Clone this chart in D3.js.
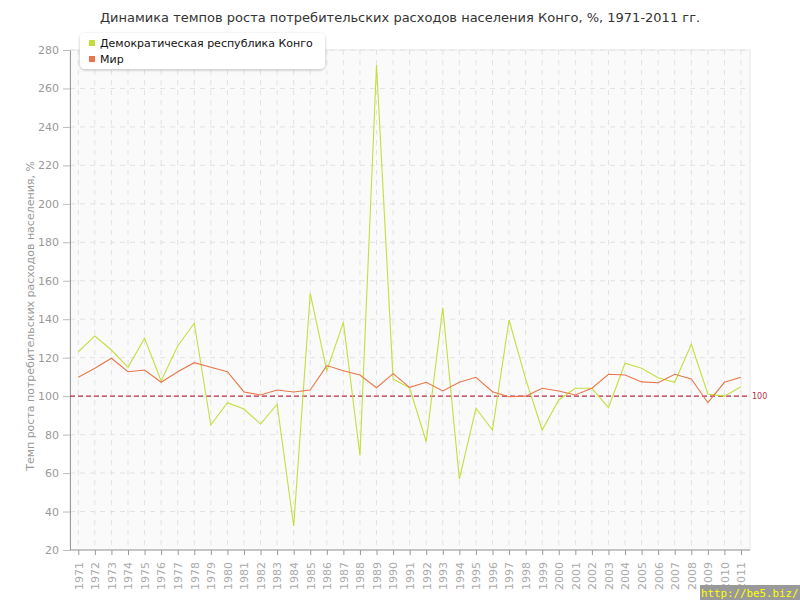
<!DOCTYPE html>
<html>
<head>
<meta charset="utf-8">
<script src="https://d3js.org/d3.v7.min.js"></script>
<style>
  body { margin: 0; background: #fff; }
  svg { display: block; font-family: "DejaVu Sans", Verdana, sans-serif; }
</style>
</head>
<body>
<svg id="chart" width="800" height="600"></svg>
<script>
const years = d3.range(1971, 2012);
const congo = [123.1, 131.3, 124, 115, 130.1, 107.9, 126.1, 137.9, 85, 96.6,
  93.3, 85.5, 95.8, 32.5, 153.5, 113.2, 138.4, 69.2, 272.2, 108.9,
  104.3, 76.3, 146, 56.9, 93.7, 82.4, 139.6, 109, 82.4, 98,
  104.1, 104.1, 94, 117.1, 114.5, 109.6, 107.2, 127, 101.1, 100, 104.9];
const world = [109.8, 114.5, 119.7, 112.7, 113.6, 107.2, 112.7, 117.4, 115, 112.7,
  102.2, 100.6, 103.2, 102.2, 103.2, 115.9, 113.2, 111, 104.4, 111.7,
  104.6, 107.2, 102.7, 107.2, 109.8, 102.3, 99.7, 100, 104.1, 102.7,
  100.6, 104.1, 111.4, 111, 107.4, 107, 111.4, 108.9, 96.6, 107.2, 109.8];
const yTicks = [20, 40, 60, 80, 100, 120, 140, 160, 180, 200, 220, 240, 260, 280];
const seriesNames = ["Демократическая республика Конго", "Мир"];
const seriesColors = ["#c3df3c", "#e8764a"];
const refValue = 100;

const svg = d3.select("#chart");
const L = 70, R = 750, T = 50, B = 550;
const x = d3.scaleLinear().domain([1971, 2011]).range([78.3, 741]);
const y = d3.scaleLinear().domain([20, 280]).range([B, T]);

// title
svg.append("text").attr("x", 400).attr("y", 22).attr("text-anchor", "middle")
  .attr("font-size", 13).attr("fill", "#333")
  .text("Динамика темпов роста потребительских расходов населения Конго, %, 1971-2011 гг.");

// plot bg
svg.append("rect").attr("x", L).attr("y", T).attr("width", R - L).attr("height", B - T)
  .attr("fill", "#fafafa").attr("stroke", "#e6e6e6");

// grid
const g = svg.append("g");
g.selectAll(".vg").data(years).join("line")
  .attr("x1", d => x(d)).attr("x2", d => x(d)).attr("y1", T).attr("y2", B)
  .attr("stroke", "#e2e2e2").attr("stroke-dasharray", "5,5");
g.selectAll(".hg").data(yTicks.slice(1)).join("line")
  .attr("x1", L).attr("x2", R).attr("y1", d => y(d)).attr("y2", d => y(d))
  .attr("stroke", "#e2e2e2").attr("stroke-dasharray", "5,5");

// axes
const yAxis = svg.append("g").attr("transform", `translate(${L},0)`)
  .call(d3.axisLeft(y).tickValues(yTicks).tickSize(7).tickPadding(4).tickSizeOuter(0));
yAxis.select(".domain").attr("stroke", "#999");
yAxis.selectAll(".tick line").attr("stroke", "#bbb");
yAxis.selectAll("text").attr("fill", "#999").attr("font-size", 11)
  .attr("font-family", "DejaVu Sans, sans-serif");

const xAxis = svg.append("g").attr("transform", `translate(0,${B})`)
  .call(d3.axisBottom(x).tickValues(years).tickFormat(d3.format("d")).tickSize(5).tickSizeOuter(0));
xAxis.select(".domain").attr("stroke", "#999").attr("d", `M${L},0H${R}`);
xAxis.selectAll(".tick line").attr("stroke", "#999");
xAxis.selectAll("text").attr("fill", "#aaa").attr("font-size", 11)
  .attr("font-family", "DejaVu Sans, sans-serif")
  .attr("transform", "rotate(-90)").attr("text-anchor", "end")
  .attr("x", -12).attr("y", 0).attr("dy", "0.35em");

// y axis title
svg.append("text").attr("transform", "translate(34,316) rotate(-90)")
  .attr("text-anchor", "middle").attr("font-size", 11).attr("fill", "#999")
  .text("Темп роста потребительских расходов населения, %");

// reference line
svg.append("line").attr("x1", L).attr("x2", R).attr("y1", y(refValue)).attr("y2", y(refValue))
  .attr("stroke", "#b0304a").attr("stroke-width", 1.2).attr("stroke-dasharray", "5,3");
svg.append("text").attr("x", R + 2).attr("y", y(refValue)).attr("dy", "0.35em")
  .attr("font-size", 8).attr("fill", "#b0304a").text(refValue);

// lines
const line = d3.line().x((d, i) => x(years[i])).y(d => y(d));
[congo, world].forEach((s, i) => {
  svg.append("path").datum(s).attr("d", line).attr("fill", "none")
    .attr("stroke", seriesColors[i]).attr("stroke-width", 1.1);
});

// legend
const defs = svg.append("defs");
const f = defs.append("filter").attr("id", "sh").attr("x", "-10%").attr("y", "-30%")
  .attr("width", "120%").attr("height", "170%");
f.append("feDropShadow").attr("dx", 0).attr("dy", 1).attr("stdDeviation", 1.5)
  .attr("flood-color", "#000").attr("flood-opacity", 0.25);
svg.append("rect").attr("x", 80).attr("y", 33).attr("width", 245).attr("height", 36)
  .attr("rx", 5).attr("fill", "#fff").attr("filter", "url(#sh)");
seriesNames.forEach((n, i) => {
  svg.append("rect").attr("x", 89).attr("y", 40 + i * 16).attr("width", 6).attr("height", 6)
    .attr("fill", seriesColors[i]);
  svg.append("text").attr("x", 100).attr("y", 43 + i * 16).attr("dy", "0.35em")
    .attr("font-size", 11).attr("fill", "#111").text(n);
});

// watermark
svg.append("rect").attr("x", 700).attr("y", 585).attr("width", 100).attr("height", 15).attr("fill", "#999");
svg.append("text").attr("x", 701).attr("y", 597).attr("font-size", 10.8).attr("fill", "#ff0")
  .attr("font-family", "DejaVu Sans Mono, monospace").text("http://be5.biz/");
</script>
</body>
</html>
